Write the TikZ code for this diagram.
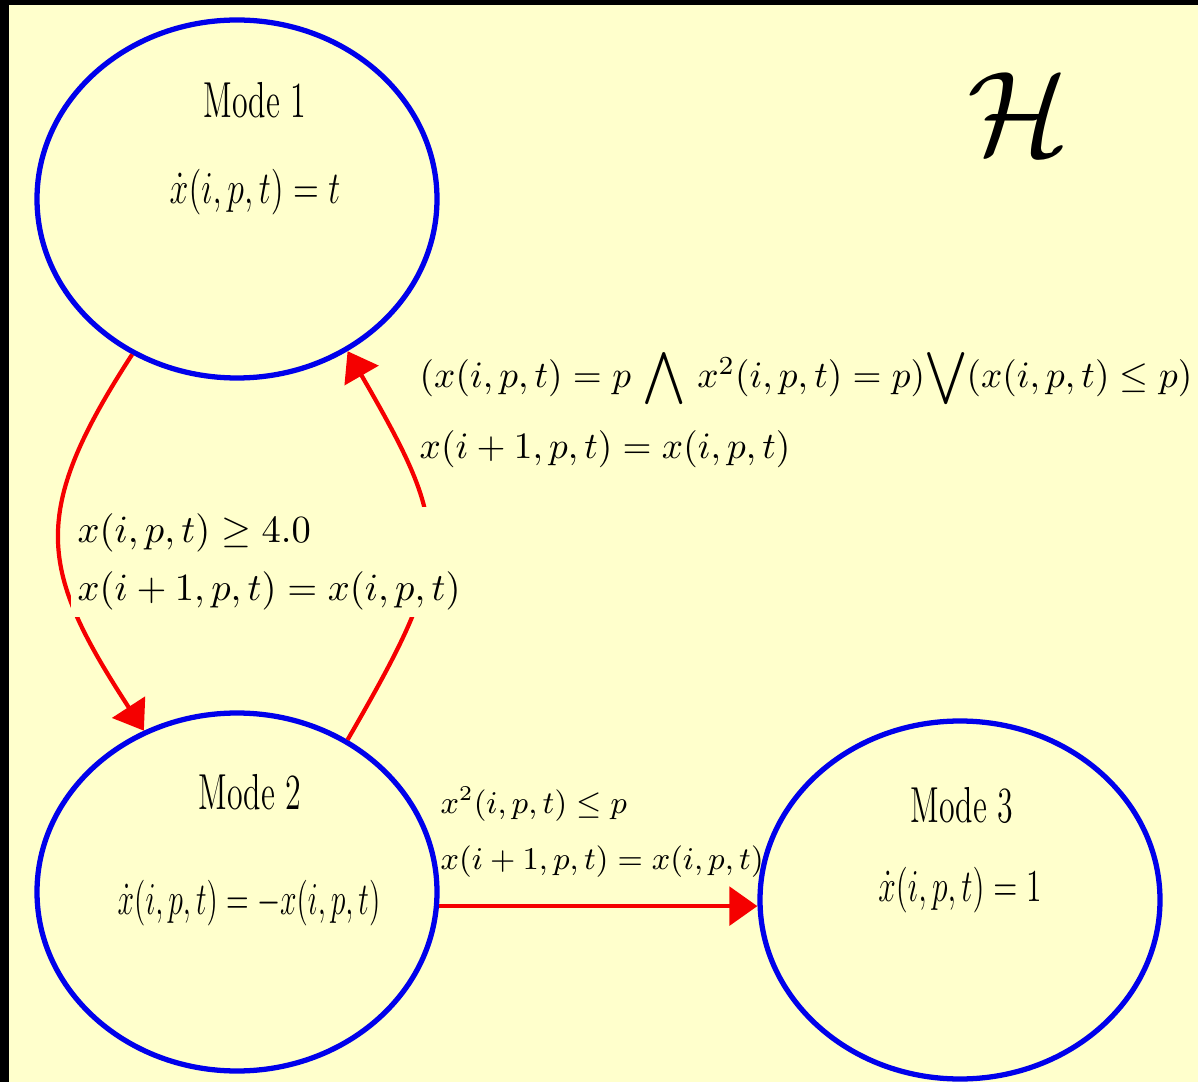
\RequirePackage{fix-cm}
\documentclass[tikz,border=0pt]{standalone}
\usepackage{amsmath,amssymb}
\usepackage{graphicx}
\usetikzlibrary{shapes.geometric,arrows.meta,positioning}

\definecolor{bgyellow}{RGB}{255,255,204}
\definecolor{modeblue}{RGB}{0,0,235}
\definecolor{jumpred}{RGB}{245,0,0}
\newcommand{\squeeze}[2]{\scalebox{#1}[1]{#2}}

\tikzset{
  mode/.style={ellipse, draw=modeblue, line width=1.5pt,
    minimum width=4cm, minimum height=3.58cm},
  modetitle/.style={font=\fontsize{14.4}{16}\selectfont},
  modeeq/.style={font=\fontsize{13}{15}\selectfont},
  jump/.style={draw=jumpred, line width=1.2pt,
    -{Triangle[length=8pt,width=11pt]}},
}

\begin{document}
\begin{tikzpicture}

  % Fondo
  \fill[black] (0,0) rectangle (11.98,10.82);
  \fill[bgyellow] (0.09,0) rectangle (11.98,10.77);
  \useasboundingbox (0,0) rectangle (11.98,10.82);

  % Modos
  \node[mode] (m1) at (2.37,8.83) {};
  \node[mode] (m2) at (2.37,1.90) {};
  \node[mode] (m3) at (9.60,1.82) {};

  \node[modetitle] (t1) at (2.55,9.82) {\squeeze{0.63}{Mode 1}};
  \node[modeeq] (e1) at (2.55,8.90) {\squeeze{0.74}{$\dot{x}(i,p,t)=t$}};
  \node[modetitle] (t2) at (2.50,2.90) {\squeeze{0.63}{Mode 2}};
  \node[modeeq] (e2) at (2.49,1.79) {\squeeze{0.65}{$\dot{x}(i,p,t)=-x(i,p,t)$}};
  \node[modetitle] (t3) at (9.62,2.77) {\squeeze{0.63}{Mode 3}};
  \node[modeeq] (e3) at (9.60,1.92) {\squeeze{0.69}{$\dot{x}(i,p,t)=1$}};

  % Titulo
  \node (hyb) at (10.19,9.68) {\fontsize{34}{40}\selectfont$\mathcal{H}$};

  % Transiciones
  \draw[jump] (m1.236) to[out=237,in=123,looseness=1.3] (m2.120);
  \draw[jump] (m2.54) to[out=60,in=-60,looseness=1.4] (m1.-54);
  \draw[jump] (m2.-4) -- (m3.west |- m2.-4);

  % Guardas
  \node[fill=bgyellow, inner sep=2pt, align=left, anchor=west,
    font=\fontsize{10.95}{16.5}\selectfont] (g12) at (0.70,5.20)
    {$x(i,p,t)\geq 4.0$\\ $x(i+1,p,t)=x(i,p,t)$};
  \node[inner sep=2pt, align=left, anchor=west,
    font=\fontsize{10.6}{20}\selectfont] (g21) at (4.12,6.74)
    {$(x(i,p,t)=p\ {\displaystyle\bigwedge}\ x^2(i,p,t)=p){\displaystyle\bigvee}(x(i,p,t)\leq p)$\\
     $x(i+1,p,t)=x(i,p,t)$};
  \node[inner sep=2pt, align=left, anchor=west,
    font=\fontsize{9}{16}\selectfont] (g23) at (4.33,2.50)
    {$x^2(i,p,t)\leq p$\\ $x(i+1,p,t)=x(i,p,t)$};

\end{tikzpicture}
\end{document}
